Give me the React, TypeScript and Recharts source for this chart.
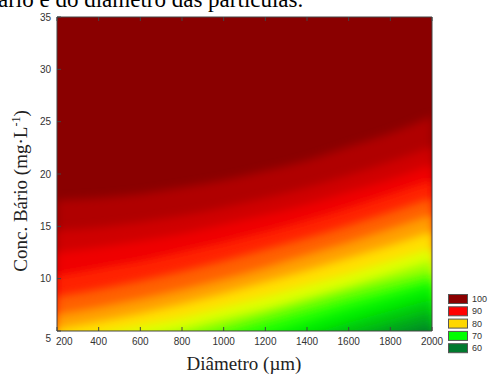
import React from "react";
import { ComposedChart, Area, XAxis, YAxis } from "recharts";

// diameter grid (µm) where each contour line was read
const diameters = [200, 400, 600, 800, 1000, 1200, 1400, 1600, 1800, 2000];

// Conc. Bário (mg/L) where the surface reaches each level, per diameter
const c975 = [17.5, 17.7, 18.1, 18.7, 19.4, 20.3, 21.3, 22.6, 23.9, 25.5];
const c950 = [14.6, 14.9, 15.4, 16.0, 16.8, 17.7, 18.7, 19.9, 21.2, 22.6];
const c925 = [12.5, 13.0, 13.6, 14.3, 15.2, 16.1, 17.1, 18.3, 19.5, 20.9];
const c900 = [10.3, 11.0, 11.7, 12.6, 13.5, 14.5, 15.6, 16.8, 18.1, 19.4];
const c875 = [8.3, 9.0, 9.8, 10.7, 11.7, 12.8, 13.9, 15.1, 16.4, 17.7];
const c850 = [6.6, 7.3, 8.1, 9.0, 10.0, 11.1, 12.3, 13.5, 14.8, 16.1];
const c825 = [5.2, 5.9, 6.7, 7.6, 8.6, 9.7, 10.8, 12.0, 13.2, 14.5];
const c800 = [4.0, 4.7, 5.5, 6.3, 7.3, 8.3, 9.4, 10.5, 11.7, 12.9];
const c775 = [2.9, 3.6, 4.4, 5.2, 6.2, 7.1, 8.2, 9.3, 10.5, 11.7];
const c750 = [1.6, 2.5, 3.4, 4.4, 5.4, 6.5, 7.6, 8.7, 9.7, 10.6];
const c725 = [0.4, 1.4, 2.4, 3.5, 4.6, 5.7, 6.8, 7.9, 8.9, 9.9];
const c700 = [-0.8, 0.2, 1.2, 2.3, 3.4, 4.6, 5.8, 7.0, 8.1, 9.2];
const c675 = [-2.0, -1.0, 0.0, 1.1, 2.2, 3.4, 4.6, 5.8, 6.9, 8.0];
const c650 = [-3.2, -2.2, -1.2, -0.1, 1.0, 2.2, 3.4, 4.6, 5.7, 6.8];
const c625 = [-4.4, -3.4, -2.4, -1.3, -0.2, 1.0, 2.2, 3.4, 4.5, 5.6];

const xTicks = [200, 400, 600, 800, 1000, 1200, 1400, 1600, 1800, 2000];
const yTicks = [5, 10, 15, 20, 25, 30, 35];
const legendLevels = [100, 90, 80, 70, 60];

const contours = [
  { key: "c975", level: 97.5, values: c975 },
  { key: "c950", level: 95, values: c950 },
  { key: "c925", level: 92.5, values: c925 },
  { key: "c900", level: 90, values: c900 },
  { key: "c875", level: 87.5, values: c875 },
  { key: "c850", level: 85, values: c850 },
  { key: "c825", level: 82.5, values: c825 },
  { key: "c800", level: 80, values: c800 },
  { key: "c775", level: 77.5, values: c775 },
  { key: "c750", level: 75, values: c750 },
  { key: "c725", level: 72.5, values: c725 },
  { key: "c700", level: 70, values: c700 },
  { key: "c675", level: 67.5, values: c675 },
  { key: "c650", level: 65, values: c650 },
  { key: "c625", level: 62.5, values: c625 },
];

const data = diameters.map((d, i) => {
  const row: Record<string, number> = { d, top: 35 };
  contours.forEach((c) => (row[c.key] = c.values[i]));
  return row;
});

// colour scale keys
const colorKeys: [number, string][] = [
  [60, "#00702a"],
  [70, "#00ff00"],
  [80, "#ffff00"],
  [90, "#ff0000"],
  [100, "#800000"],
];
const legendColors = ["#8b0000", "#ff0000", "#ffd700", "#00ff00", "#007a2e"];

const hex = (s: string) => [1, 3, 5].map((i) => parseInt(s.slice(i, i + 2), 16));
const colorAt = (v: number) => {
  for (let k = 0; k < colorKeys.length - 1; k++) {
    const [a, ca] = colorKeys[k];
    const [b, cb] = colorKeys[k + 1];
    if (v <= b || k === colorKeys.length - 2) {
      const t = Math.max(0, Math.min(1, (v - a) / (b - a)));
      const A = hex(ca);
      const B = hex(cb);
      const rgb = A.map((x, j) => Math.round(x + (B[j] - x) * t));
      return `rgb(${rgb.join(",")})`;
    }
  }
  return colorKeys[0][1];
};

const AXIS = "#444";
const TICK_FONT = '"Liberation Sans", Arial, sans-serif';
const SERIF = '"Liberation Serif", "Times New Roman", serif';

const BottomTick = (props: any) => {
  const { x, y, payload, index } = props;
  const first = index === 0;
  return (
    <g>
      <line x1={x} x2={x} y1={y} y2={y - 4} stroke={AXIS} />
      <text
        x={first ? x - 1 : x}
        y={y + 14}
        textAnchor={first ? "start" : "middle"}
        fontSize={10}
        fontFamily={TICK_FONT}
        fill="#333"
      >
        {payload.value}
      </text>
    </g>
  );
};

const TopTick = (props: any) => {
  const { x, y } = props;
  return <line x1={x} x2={x} y1={y} y2={y + 4} stroke={AXIS} />;
};

const LeftTick = (props: any) => {
  const { x, y, payload } = props;
  const first = payload.value === 5;
  return (
    <g>
      <line x1={x} x2={x + 4} y1={y} y2={y} stroke={AXIS} />
      <text
        x={x - 6}
        y={y + (first ? 7 : 0)}
        dy="0.35em"
        textAnchor="end"
        fontSize={10}
        fontFamily={TICK_FONT}
        fill="#333"
      >
        {payload.value}
      </text>
    </g>
  );
};

const RightTick = (props: any) => {
  const { x, y } = props;
  return <line x1={x} x2={x - 4} y1={y} y2={y} stroke={AXIS} />;
};

export default function App() {
  return (
    <div
      style={{
        position: "fixed",
        left: 0,
        top: 0,
        width: 491,
        height: 374,
        overflow: "hidden",
        background: "#fff",
      }}
    >
      <style>{`.contour-band .recharts-area-area { filter: url(#soften); }`}</style>
      <svg width={0} height={0} style={{ position: "absolute" }}>
        <defs>
          <filter id="soften" x="-10%" y="-10%" width="120%" height="120%">
            <feGaussianBlur stdDeviation={4} />
          </filter>
        </defs>
      </svg>

      <ComposedChart
        width={491}
        height={374}
        data={data}
        margin={{ top: 16, right: 58, bottom: 42, left: 56 }}
      >
        <XAxis
          dataKey="d"
          type="number"
          domain={[200, 2000]}
          ticks={xTicks}
          height={1}
          tickSize={0}
          tickMargin={0}
          tickLine={false}
          axisLine={{ stroke: AXIS }}
          tick={<BottomTick />}
          allowDataOverflow
        />
        <XAxis
          xAxisId="top"
          orientation="top"
          dataKey="d"
          type="number"
          domain={[200, 2000]}
          ticks={xTicks}
          height={1}
          tickSize={0}
          tickMargin={0}
          tickLine={false}
          axisLine={{ stroke: AXIS }}
          tick={<TopTick />}
        />
        <YAxis
          type="number"
          domain={[5, 35]}
          ticks={yTicks}
          width={1}
          tickSize={0}
          tickMargin={0}
          tickLine={false}
          axisLine={{ stroke: AXIS }}
          tick={<LeftTick />}
          allowDataOverflow
        />
        <YAxis
          yAxisId="right"
          orientation="right"
          type="number"
          domain={[5, 35]}
          ticks={yTicks}
          width={1}
          tickSize={0}
          tickMargin={0}
          tickLine={false}
          axisLine={{ stroke: AXIS }}
          tick={<RightTick />}
        />
        <Area
          dataKey="top"
          type="linear"
          baseValue={5}
          stroke="none"
          fill={colorAt(99.2)}
          fillOpacity={1}
          dot={false}
          activeDot={false}
          isAnimationActive={false}
        />
        {contours.map((c) => (
          <Area
            key={c.key}
            className="contour-band"
            dataKey={c.key}
            type="monotone"
            baseValue={-10}
            stroke="none"
            fill={colorAt(c.level - 1.25)}
            fillOpacity={1}
            dot={false}
            activeDot={false}
            isAnimationActive={false}
          />
        ))}
      </ComposedChart>

      <svg
        width={491}
        height={374}
        style={{ position: "absolute", left: 0, top: 0, zIndex: 2, pointerEvents: "none" }}
      >
        <text x={-2} y={7} fontFamily={SERIF} fontSize={23} fill="#000">
          ário e do diâmetro das partículas.
        </text>
        <text
          transform="translate(27,191) rotate(-90)"
          textAnchor="middle"
          fontFamily={SERIF}
          fontSize={19}
          fill="#222"
        >
          Conc. Bário (mg·L
          <tspan dy={-7} fontSize={12}>
            -1
          </tspan>
          <tspan dy={7}>)</tspan>
        </text>
        <text
          x={244}
          y={370}
          textAnchor="middle"
          fontFamily={SERIF}
          fontSize={19}
          fill="#222"
        >
          Diâmetro (µm)
        </text>
        {legendLevels.map((lv, i) => (
          <g key={lv}>
            <rect
              x={448.5}
              y={294.5 + i * 12.3}
              width={19}
              height={9}
              fill={legendColors[i]}
              stroke="#555"
            />
            <text
              x={472}
              y={299 + i * 12.3}
              dy="0.35em"
              fontFamily={TICK_FONT}
              fontSize={9}
              fill="#333"
            >
              {lv}
            </text>
          </g>
        ))}
      </svg>
    </div>
  );
}
